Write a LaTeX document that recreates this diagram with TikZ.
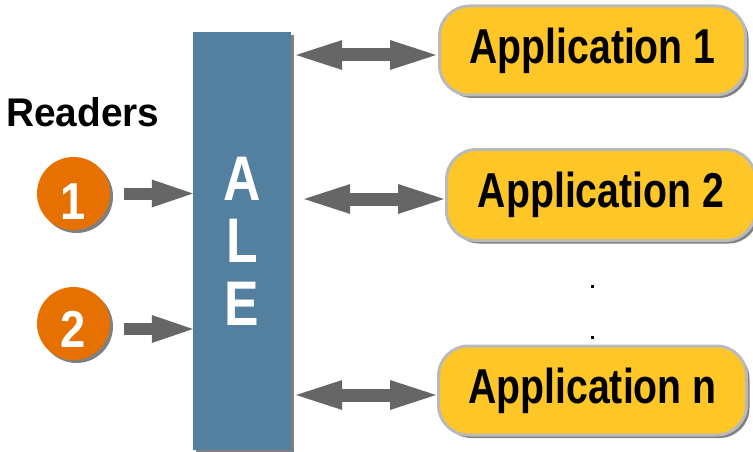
\documentclass[tikz,border=0pt]{standalone}
\usepackage{fontspec}
\setmainfont{Liberation Sans}
\usepackage{graphicx}
\usetikzlibrary{arrows.meta,shadows,calc}

\definecolor{alefill}{RGB}{84,128,159}
\definecolor{readerorange}{RGB}{230,112,0}
\definecolor{appyellow}{RGB}{254,198,38}
\definecolor{appborder}{RGB}{186,186,186}
\definecolor{arrowgray}{RGB}{102,102,102}
\definecolor{shadowgray}{RGB}{128,128,128}

% horizontally condensed text
\newcommand\narrowtext[2][0.82]{\scalebox{#1}[1]{#2}}
% digit set a little below the circle's centre
\newcommand\lowdigit[2]{\raisebox{#1}[\height][\depth]{\narrowtext[0.87]{#2}}}

\begin{document}
\begin{tikzpicture}[x=1pt,y=-1pt,
  dropsh/.style={drop shadow={shadow xshift=3pt,shadow yshift=-3pt,fill=shadowgray,opacity=1}},
  alebox/.style={rectangle, fill=alefill, minimum width=98pt, minimum height=418pt,
    inner sep=0pt, text=white, font=\bfseries\fontsize{63}{62.5}\selectfont,
    align=center, dropsh},
  reader/.style={circle, fill=readerorange, minimum size=73pt, inner sep=0pt,
    text=white, font=\bfseries\fontsize{52}{52}\selectfont, dropsh},
  appbox/.style={rectangle, rounded corners=30pt, fill=appyellow, draw=appborder,
    line width=3pt, minimum height=89pt, inner sep=0pt,
    font=\bfseries\fontsize{49}{49}\selectfont, dropsh},
  feed/.style={draw=arrowgray, line width=12pt,
    -{Triangle[length=41pt,width=28pt,line width=0pt]}},
  link/.style={draw=arrowgray, line width=13pt,
    {Triangle[length=46pt,width=30pt,line width=0pt]}-{Triangle[length=46pt,width=30pt,line width=0pt]}},
]
\useasboundingbox (0,0) rectangle (753,452);
\fill[white] (0,0) rectangle (753,452);

% middleware column
\node[alebox] (ale) at (242,241) {\narrowtext{A}\\\narrowtext{L}\\\narrowtext{E}};

% readers
\node[anchor=base west, inner sep=0pt, font=\bfseries\fontsize{40}{40}\selectfont]
  (readers) at (6,127) {\narrowtext[0.97]{Readers}};
\node[reader] (r1) at (73.5,193.5) {\lowdigit{-8pt}{1}};
\node[reader] (r2) at (73.5,323.5) {\lowdigit{-6pt}{2}};

% applications
\node[appbox, minimum width=306pt] (app1) at (592.5,50.5) {\narrowtext[0.8]{Application 1}};
\node[appbox, minimum width=309pt, minimum height=91pt] (app2) at (601,195) {\narrowtext[0.8]{Application 2}};
\node[appbox, minimum width=308pt] (appn) at (592.5,390.5) {\narrowtext[0.8]{Application n}};

% ellipsis between applications
\fill (590.5,284.5) rectangle ++(3,3);
\fill (590.5,335.5) rectangle ++(3,3);

% reader feeds
\draw[feed] ($(r1.east)+(14,0)$) -- (r1.east -| ale.west);
\draw[feed] ($(r2.east)+(14,5.5)$) -- ($(r2.east -| ale.west)+(0,5.5)$);

% application links
\draw[link] ($(app1.west -| ale.east)+(5,4.5)$) -- ($(app1.west)+(-2,4.5)$);
\draw[link] ($(app2.west -| ale.east)+(13,4)$) -- ($(app2.west)+(-1,4)$);
\draw[link] ($(appn.west -| ale.east)+(5,4.5)$) -- ($(appn.west)+(-1,4.5)$);
\end{tikzpicture}
\end{document}
